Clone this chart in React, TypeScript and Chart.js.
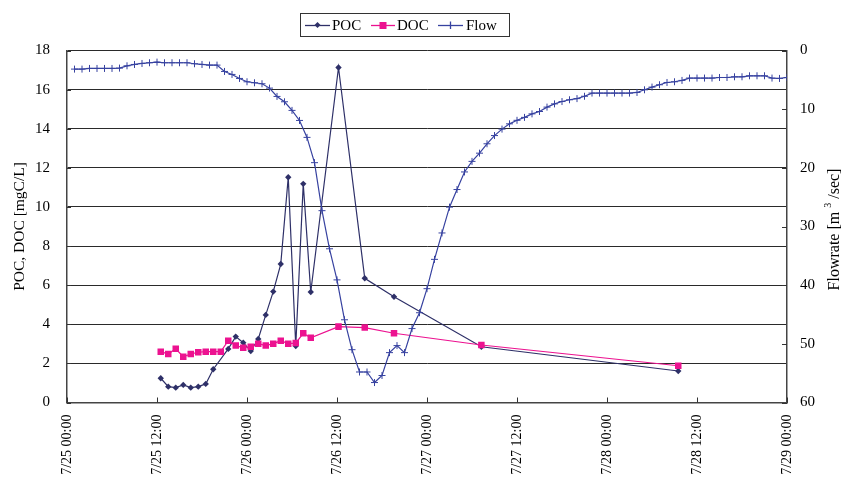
import React, { useEffect, useRef } from 'react';
import { Chart, registerables } from 'chart.js';

Chart.register(...registerables);

const FONT = '"Liberation Serif", "Times New Roman", serif';

const xTickLabels = ['7/25 00:00', '7/25 12:00', '7/26 00:00', '7/26 12:00', '7/27 00:00', '7/27 12:00', '7/28 00:00', '7/28 12:00', '7/29 00:00'];

// hours since 7/25 00:00
const pocHours = [12.5, 13.5, 14.5, 15.5, 16.5, 17.5, 18.5, 19.5, 21.5, 22.5, 23.5, 24.5, 25.5, 26.5, 27.5, 28.5, 29.5, 30.5, 31.5, 32.5, 36.2, 39.7, 43.6, 55.25, 81.5];
const pocValues = [1.24, 0.81, 0.76, 0.9, 0.76, 0.81, 0.95, 1.7, 2.74, 3.37, 3.06, 2.63, 3.25, 4.48, 5.67, 7.08, 11.52, 2.89, 11.18, 5.65, 17.13, 6.35, 5.41, 2.85, 1.61];

const docHours = [12.5, 13.5, 14.5, 15.5, 16.5, 17.5, 18.5, 19.5, 20.5, 21.5, 22.5, 23.5, 24.5, 25.5, 26.5, 27.5, 28.5, 29.5, 30.5, 31.5, 32.5, 36.2, 39.7, 43.6, 55.25, 81.5];
const docValues = [2.6, 2.48, 2.75, 2.34, 2.48, 2.57, 2.6, 2.6, 2.6, 3.16, 2.91, 2.8, 2.85, 3.01, 2.91, 3.01, 3.16, 3.01, 3.04, 3.54, 3.31, 3.88, 3.83, 3.54, 2.94, 1.88];

const flowStartHour = 1;
const flowValues = [
  3.17, 3.17, 3.06, 3.06, 3.06, 3.06, 3.0, 2.61, 2.38, 2.21, 2.09, 1.98,
  2.09, 2.09, 2.09, 2.09, 2.26, 2.38, 2.49, 2.49, 3.57, 4.08, 4.76, 5.33,
  5.5, 5.67, 6.41, 7.83, 8.74, 10.21, 11.92, 14.81, 19.12, 27.3, 33.8, 39.1,
  45.9, 51.0, 54.8, 54.8, 56.6, 55.4, 51.5, 50.3, 51.5, 47.4, 44.7, 40.6,
  35.6, 31.1, 26.7, 23.7, 20.7, 18.9, 17.5, 15.9, 14.5, 13.4, 12.5, 11.9,
  11.4, 10.8, 10.4, 9.65, 9.1, 8.7, 8.4, 8.2, 7.8, 7.26, 7.26, 7.26,
  7.26, 7.26, 7.26, 7.15, 6.7, 6.24, 5.84, 5.45, 5.33, 5.1, 4.7, 4.7,
  4.7, 4.7, 4.6, 4.6, 4.48, 4.48, 4.31, 4.31, 4.31, 4.7, 4.76, 4.6,
];

const POC_COLOR = '#2E3068';
const DOC_COLOR = '#EC1290';
const FLOW_COLOR = '#3742A0';

const decorPlugin = {
  id: 'decor',
  afterDraw(chart: any) {
    const ctx: CanvasRenderingContext2D = chart.ctx;
    const xs = chart.scales.x;
    const ys = chart.scales.y;
    const y2 = chart.scales.y2;
    ctx.save();
    // inward tick marks
    ctx.strokeStyle = '#333';
    ctx.lineWidth = 1;
    ctx.beginPath();
    xs.ticks.forEach((t: any) => {
      const px = Math.round(xs.getPixelForValue(t.value)) + 0.5;
      ctx.moveTo(px, xs.top);
      ctx.lineTo(px, xs.top - 5);
    });
    ys.ticks.forEach((t: any) => {
      const py = Math.round(ys.getPixelForValue(t.value)) + 0.5;
      ctx.moveTo(ys.right, py);
      ctx.lineTo(ys.right + 4, py);
    });
    y2.ticks.forEach((t: any) => {
      const py = Math.round(y2.getPixelForValue(t.value)) + 0.5;
      ctx.moveTo(y2.left, py);
      ctx.lineTo(y2.left - 5, py);
    });
    ctx.stroke();

    // right axis title (reads bottom to top)
    ctx.fillStyle = '#000';
    ctx.textBaseline = 'middle';
    ctx.textAlign = 'left';
    const cy = (chart.chartArea.top + chart.chartArea.bottom) / 2 + 3;
    const tx = 835;
    const big = `16px ${FONT}`;
    const small = `10px ${FONT}`;
    const p1 = 'Flowrate [m';
    const p2 = '3';
    const p3 = '/sec]';
    ctx.font = big;
    const w1 = ctx.measureText(p1).width;
    const w3 = ctx.measureText(p3).width;
    ctx.font = small;
    const w2 = ctx.measureText(p2).width;
    const gap = 4;
    const total = w1 + gap + w2 + gap + w3;
    ctx.translate(tx, cy);
    ctx.rotate(-Math.PI / 2);
    let cx = -total / 2;
    ctx.font = big;
    ctx.fillText(p1, cx, 0);
    cx += w1 + gap;
    ctx.font = small;
    ctx.fillText(p2, cx, -7);
    cx += w2 + gap;
    ctx.font = big;
    ctx.fillText(p3, cx, 0);
    ctx.setTransform(1, 0, 0, 1, 0, 0);

    // legend box
    ctx.strokeStyle = '#333';
    ctx.lineWidth = 1;
    ctx.strokeRect(300.5, 13.5, 209, 23);
    const ly = 25;
    ctx.font = `15px ${FONT}`;
    ctx.textAlign = 'left';
    ctx.textBaseline = 'middle';
    ctx.fillStyle = '#000';
    const items = [
      { label: 'POC', color: POC_COLOR, x0: 305, x1: 330, tx: 332, mark: 'diamond' },
      { label: 'DOC', color: DOC_COLOR, x0: 371, x1: 395, tx: 397, mark: 'square' },
      { label: 'Flow', color: FLOW_COLOR, x0: 438, x1: 463, tx: 466, mark: 'cross' },
    ];
    items.forEach((it) => {
      ctx.strokeStyle = it.color;
      ctx.lineWidth = 1.3;
      ctx.beginPath();
      ctx.moveTo(it.x0, ly + 0.5);
      ctx.lineTo(it.x1, ly + 0.5);
      ctx.stroke();
      const mx = (it.x0 + it.x1) / 2;
      ctx.fillStyle = it.color;
      if (it.mark === 'diamond') {
        ctx.beginPath();
        ctx.moveTo(mx, ly - 3);
        ctx.lineTo(mx + 3, ly);
        ctx.lineTo(mx, ly + 3);
        ctx.lineTo(mx - 3, ly);
        ctx.closePath();
        ctx.fill();
      } else if (it.mark === 'square') {
        ctx.fillRect(mx - 3.5, ly - 3, 7, 7);
      } else {
        ctx.beginPath();
        ctx.moveTo(mx, ly - 3.5);
        ctx.lineTo(mx, ly + 4);
        ctx.stroke();
      }
      ctx.fillStyle = '#000';
      ctx.fillText(it.label, it.tx, ly + 1);
    });
    ctx.restore();
  },
};

export default function App() {
  const canvasRef = useRef<HTMLCanvasElement | null>(null);

  useEffect(() => {
    document.body.style.margin = '0';
    const canvas = canvasRef.current;
    if (!canvas) return;
    Chart.defaults.font.family = FONT;
    Chart.defaults.color = '#000';

    const chart = new Chart(canvas, {
      type: 'line',
      data: {
        datasets: [
          {
            label: 'Flow',
            yAxisID: 'y2',
            data: flowValues.map((v, i) => ({ x: flowStartHour + i, y: v })),
            borderColor: FLOW_COLOR,
            backgroundColor: FLOW_COLOR,
            borderWidth: 1.2,
            pointStyle: 'cross',
            pointRadius: 3.5,
            pointBorderWidth: 1,
            pointBorderColor: FLOW_COLOR,
            tension: 0,
            order: 0,
          },
          {
            label: 'DOC',
            yAxisID: 'y',
            data: docHours.map((h, i) => ({ x: h, y: docValues[i] })),
            borderColor: DOC_COLOR,
            backgroundColor: DOC_COLOR,
            borderWidth: 1.2,
            pointStyle: 'rect',
            pointRadius: 4.6,
            pointBorderWidth: 0,
            tension: 0,
            order: 1,
          },
          {
            label: 'POC',
            yAxisID: 'y',
            data: pocHours.map((h, i) => ({ x: h, y: pocValues[i] })),
            borderColor: POC_COLOR,
            backgroundColor: POC_COLOR,
            borderWidth: 1.2,
            pointStyle: 'rectRot',
            pointRadius: 3.2,
            pointBorderWidth: 0,
            tension: 0,
            order: 2,
          },
        ],
      },
      options: {
        animation: false,
        responsive: false,
        events: [],
        layout: { padding: { top: 50.5, left: 0, right: 0, bottom: 0 } },
        plugins: {
          legend: { display: false },
          tooltip: { enabled: false },
        },
        scales: {
          x: {
            type: 'linear',
            min: 0,
            max: 96,
            afterFit: (s: any) => { s.height = 82.5; },
            ticks: {
              stepSize: 12,
              autoSkip: false,
              maxRotation: 90,
              minRotation: 90,
              padding: 12,
              font: { size: 14, family: FONT },
              color: '#000',
              callback: (value: any) => {
                const idx = Math.round(Number(value) / 12);
                return xTickLabels[idx] ?? '';
              },
            },
            grid: { display: false, drawTicks: false },
            border: { display: true, color: '#444', width: 1.5 },
          },
          y: {
            type: 'linear',
            position: 'left',
            min: 0,
            max: 18,
            afterFit: (s: any) => { s.width = 67; },
            ticks: { stepSize: 2, padding: 17, font: { size: 15, family: FONT }, color: '#000' },
            grid: { color: '#2a2a2a', lineWidth: 1, drawTicks: false },
            border: { display: true, color: '#444', width: 1.5 },
            title: {
              display: true,
              text: 'POC, DOC [mgC/L]',
              font: { size: 15.5, family: FONT },
              color: '#000',
              padding: { top: 11, bottom: 0 },
            },
          },
          y2: {
            type: 'linear',
            position: 'right',
            reverse: true,
            min: 0,
            max: 60,
            afterFit: (s: any) => { s.width = 60; },
            ticks: { stepSize: 10, padding: 13, font: { size: 15, family: FONT }, color: '#000' },
            grid: { display: false, drawTicks: false },
            border: { display: true, color: '#444', width: 1.5 },
          },
        },
      },
      plugins: [decorPlugin],
    } as any);

    return () => chart.destroy();
  }, []);

  return (
    <div style={{ width: 847, height: 485 }}>
      <canvas ref={canvasRef} width={847} height={485} style={{ display: 'block' }} />
    </div>
  );
}
